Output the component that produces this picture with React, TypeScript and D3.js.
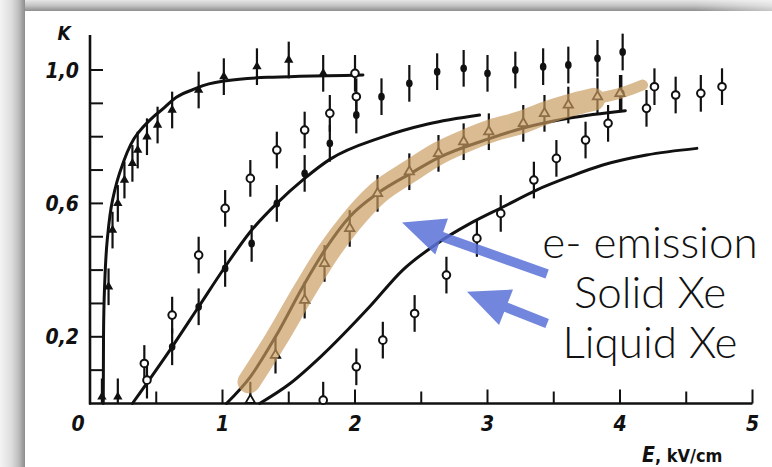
import React from 'react';
import * as d3 from 'd3';

// ---------- data (E in kV/cm, K) ----------
const curveA = [[0.1, 0], [0.102, 0.2], [0.11, 0.35], [0.13, 0.49], [0.17, 0.61], [0.24, 0.71], [0.36, 0.81], [0.54, 0.88], [0.77, 0.94], [1.0, 0.966], [1.34, 0.978], [2.06, 0.985]];
const curveB = [[0.32, 0], [0.62, 0.17], [0.82, 0.29], [1.02, 0.41], [1.21, 0.515], [1.41, 0.6], [1.62, 0.675], [1.81, 0.732], [2.2, 0.798], [2.55, 0.838], [2.94, 0.865]];
const curveC = [[1.03, 0], [1.21, 0.08], [1.4, 0.2], [1.62, 0.36], [1.78, 0.465], [1.96, 0.56], [2.17, 0.63], [2.42, 0.69], [2.62, 0.735], [3.02, 0.795], [3.27, 0.826], [3.62, 0.856], [4.04, 0.878]];
const curveD = [[1.28, 0], [1.51, 0.06], [1.74, 0.14], [2.11, 0.29], [2.36, 0.4], [2.62, 0.48], [2.87, 0.54], [3.12, 0.59], [3.37, 0.64], [3.62, 0.68], [3.87, 0.715], [4.2, 0.745], [4.58, 0.765]];

const triFilled = [[0.09, 0.02], [0.21, 0.02], [0.14, 0.35], [0.17, 0.52], [0.21, 0.6], [0.26, 0.67], [0.32, 0.72], [0.36, 0.76], [0.43, 0.8], [0.51, 0.835], [0.62, 0.88], [0.82, 0.94], [1.01, 0.98], [1.26, 1.01], [1.5, 1.03], [1.76, 0.99]];
const circOpenA = [[0.41, 0.12], [0.43, 0.07], [0.62, 0.265], [0.82, 0.445], [1.02, 0.585], [1.21, 0.675], [1.41, 0.76], [1.62, 0.82], [1.81, 0.87], [2.01, 0.92], [2.0, 0.99]];
const dotFilled = [[0.62, 0.17], [0.82, 0.29], [1.02, 0.405], [1.22, 0.48], [1.41, 0.6], [1.62, 0.69], [1.81, 0.78], [2.01, 0.865], [2.2, 0.92], [2.41, 0.96], [2.62, 0.995], [2.82, 1.005], [3.0, 0.99], [3.21, 1.0], [3.42, 1.01], [3.61, 1.015], [3.83, 1.035], [4.02, 1.054], [4.01, 0.93]];
const triOpen = [[1.21, 0.01], [1.4, 0.145], [1.62, 0.31], [1.77, 0.42], [1.96, 0.525], [2.17, 0.63], [2.41, 0.695], [2.63, 0.75], [2.82, 0.785], [3.01, 0.815], [3.27, 0.84], [3.43, 0.87], [3.61, 0.895], [3.83, 0.92], [4.0, 0.93]];
const circOpenB = [[1.76, 0.01], [2.01, 0.11], [2.21, 0.19], [2.45, 0.27], [2.69, 0.385], [2.92, 0.495], [3.1, 0.57], [3.35, 0.67], [3.52, 0.735], [3.74, 0.79], [3.91, 0.84], [4.2, 0.885], [4.26, 0.95], [4.42, 0.925], [4.61, 0.93], [4.77, 0.95]];
const errHalf = [0.055];

const bandMain = [[1.2, 0.065], [1.4, 0.19], [1.62, 0.34], [1.8, 0.455], [1.97, 0.545], [2.17, 0.63], [2.41, 0.695], [2.63, 0.75], [2.82, 0.785], [3.01, 0.815], [3.27, 0.845], [3.43, 0.87], [3.61, 0.893], [3.8, 0.912]];
const bandTail = [[3.61, 0.893], [3.83, 0.915], [4.0, 0.93], [4.17, 0.955]];

const xMinorTicks = [0.5, 1, 1.5, 2, 2.5, 3, 3.5, 4, 4.5, 5];
const xLabelValues = [0, 1, 2, 3, 4, 5];
const xLabelTexts = ['0', '1', '2', '3', '4', '5'];
const yMinorTicks = [0.1, 0.2, 0.3, 0.4, 0.5, 0.6, 0.7, 0.8, 0.9, 1.0];
const yLabelValues = [0.2, 0.6, 1.0];
const yLabelTexts = ['0,2', '0,6', '1,0'];
const annotationLines = ['e- emission', 'Solid Xe', 'Liquid Xe'];

// arrows in data coordinates: tail, tip
const arrowSolid = [[3.45, 0.388], [2.355, 0.543]];
const arrowLiquid = [[3.45, 0.24], [2.845, 0.335]];

export default function App() {
  const W = 772, H = 467;
  const x = d3.scaleLinear().domain([0, 5]).range([90, 752.5]);
  const y = d3.scaleLinear().domain([0, 1]).range([403.5, 70]);
  const lineX = d3.line<number[]>().x(d => x(d[0])).y(d => y(d[1])).curve(d3.curveMonotoneX);
  const lineY = d3.line<number[]>().x(d => x(d[0])).y(d => y(d[1])).curve(d3.curveMonotoneY);
  const err = errHalf[0];
  const ink = '#111';
  const labelFont = "'DejaVu Sans Condensed', 'DejaVu Sans', sans-serif";

  const errBar = (d: number[], i: number, key: string) => (
    <line key={key + 'e' + i} x1={x(d[0])} x2={x(d[0])} y1={y(Math.max(0, d[1] - err))} y2={y(d[1] + err)} stroke={ink} strokeWidth={2.2} />
  );
  const triPath = d3.symbol(d3.symbolTriangle, 38)();

  const arrow = (a: number[][], key: string) => {
    const x0 = x(a[0][0]), y0 = y(a[0][1]), x1 = x(a[1][0]), y1 = y(a[1][1]);
    const dx = x1 - x0, dy = y1 - y0;
    const L = Math.hypot(dx, dy);
    const ux = dx / L, uy = dy / L;
    const px = -uy, py = ux;
    const headLen = 42, headW = 19, shaftW = 4.8;
    const bx = x1 - ux * headLen, by = y1 - uy * headLen;
    const pts = [
      [x0 + px * shaftW, y0 + py * shaftW],
      [bx + px * shaftW, by + py * shaftW],
      [bx + px * headW, by + py * headW],
      [x1, y1],
      [bx - px * headW, by - py * headW],
      [bx - px * shaftW, by - py * shaftW],
      [x0 - px * shaftW, y0 - py * shaftW],
    ];
    return <polygon key={key} points={pts.map(p => p.join(',')).join(' ')} fill="#5a72d6" fillOpacity={0.86} />;
  };

  return (
    <svg width={W} height={H} style={{ position: 'absolute', left: 0, top: 0, display: 'block' }}>
      <defs>
        <linearGradient id="gl" x1="0" x2="1" y1="0" y2="0">
          <stop offset="0" stopColor="#f4f4f4" />
          <stop offset="0.45" stopColor="#dedede" />
          <stop offset="0.75" stopColor="#bdbdbd" />
          <stop offset="1" stopColor="#8c8c8c" />
        </linearGradient>
        <linearGradient id="gt" x1="0" x2="0" y1="0" y2="1">
          <stop offset="0" stopColor="#e6e6e6" />
          <stop offset="0.5" stopColor="#c4c4c4" />
          <stop offset="1" stopColor="#8e8e8e" />
        </linearGradient>
        <linearGradient id="gtFade" x1="0" x2="1" y1="0" y2="0">
          <stop offset="0" stopColor="#fff" stopOpacity="0" />
          <stop offset="0.9" stopColor="#fff" stopOpacity="0" />
          <stop offset="1" stopColor="#fff" stopOpacity="0.5" />
        </linearGradient>
      </defs>
      <rect x={0} y={0} width={W} height={H} fill="#fff" />
      <rect x={0} y={0} width={W} height={11} fill="url(#gt)" />
      <rect x={0} y={0} width={W} height={11} fill="url(#gtFade)" />
      <rect x={0} y={0} width={25} height={H} fill="url(#gl)" />

      {/* axes */}
      <line x1={x(0)} x2={x(0)} y1={35} y2={y(0) + 1} stroke={ink} strokeWidth={2.6} />
      <line x1={x(0) - 1} x2={x(5)} y1={y(0)} y2={y(0)} stroke={ink} strokeWidth={2.6} />
      {yMinorTicks.map((v, i) => (
        <line key={'yt' + i} x1={x(0)} x2={x(0) + 13} y1={y(v)} y2={y(v)} stroke={ink} strokeWidth={2} />
      ))}
      {xMinorTicks.map((v, i) => (
        <line key={'xt' + i} x1={x(v)} x2={x(v)} y1={y(0)} y2={y(0) - (Number.isInteger(v) ? 14 : 12)} stroke={ink} strokeWidth={2} />
      ))}
      {yLabelValues.map((v, i) => (
        <text key={'yl' + i} x={79} y={y(v) + 7.5} textAnchor="end" fontFamily={labelFont} fontStyle="italic" fontWeight="bold" fontSize={21} fill={ink}>{yLabelTexts[i]}</text>
      ))}
      {xLabelValues.map((v, i) => (
        <text key={'xl' + i} x={v === 0 ? x(v) - 12 : x(v)} y={431} textAnchor="middle" fontFamily={labelFont} fontStyle="italic" fontWeight="bold" fontSize={21} fill={ink}>{xLabelTexts[i]}</text>
      ))}
      <text x={64} y={40} textAnchor="middle" fontFamily={labelFont} fontStyle="italic" fontWeight="bold" fontSize={19} fill={ink}>K</text>
      <text x={642} y={462} fontFamily={labelFont} fill={ink}>
        <tspan fontStyle="italic" fontWeight="bold" fontSize={21}>E</tspan>
        <tspan fontWeight="bold" fontSize={18}>, kV/cm</tspan>
      </text>

      {/* curves */}
      <path d={lineY(curveA) || ''} fill="none" stroke={ink} strokeWidth={3} strokeLinecap="round" />
      {[curveB, curveC, curveD].map((c, i) => (
        <path key={'c' + i} d={lineX(c) || ''} fill="none" stroke={ink} strokeWidth={3} strokeLinecap="round" />
      ))}

      {/* error bars */}
      {triFilled.map((d, i) => errBar(d, i, 'tf'))}
      {circOpenA.map((d, i) => errBar(d, i, 'ca'))}
      {dotFilled.map((d, i) => errBar(d, i, 'df'))}
      {triOpen.map((d, i) => errBar(d, i, 'to'))}
      {circOpenB.map((d, i) => errBar(d, i, 'cb'))}

      {/* markers */}
      {triFilled.map((d, i) => (
        <path key={'tfm' + i} d={triPath || ''} transform={`translate(${x(d[0])},${y(d[1])})`} fill={ink} />
      ))}
      {dotFilled.map((d, i) => (
        <ellipse key={'dfm' + i} cx={x(d[0])} cy={y(d[1])} rx={3.3} ry={3.9} fill={ink} />
      ))}
      {triOpen.map((d, i) => (
        <path key={'tom' + i} d={triPath || ''} transform={`translate(${x(d[0])},${y(d[1])})`} fill="#fff" stroke={ink} strokeWidth={1.8} />
      ))}
      {circOpenA.map((d, i) => (
        <circle key={'cam' + i} cx={x(d[0])} cy={y(d[1])} r={3.8} fill="#fff" stroke={ink} strokeWidth={2} />
      ))}
      {circOpenB.map((d, i) => (
        <circle key={'cbm' + i} cx={x(d[0])} cy={y(d[1])} r={3.8} fill="#fff" stroke={ink} strokeWidth={2} />
      ))}

      {/* highlight band */}
      <g opacity={0.68}>
        <path d={lineX(bandMain) || ''} fill="none" stroke="rgb(200,155,95)" strokeWidth={23} strokeLinecap="round" strokeLinejoin="round" />
        <path d={lineX(bandTail) || ''} fill="none" stroke="rgb(200,155,95)" strokeWidth={11} strokeLinecap="round" strokeLinejoin="round" />
      </g>

      {/* arrows */}
      {arrow(arrowSolid, 'a1')}
      {arrow(arrowLiquid, 'a2')}

      {annotationLines.map((t, i) => (
        <text key={'an' + i} x={650} y={258 + i * 50} textAnchor="middle" fontFamily="Lato, 'Open Sans', sans-serif" fontWeight={300} fontSize={44} fill="#111">{t}</text>
      ))}
    </svg>
  );
}
